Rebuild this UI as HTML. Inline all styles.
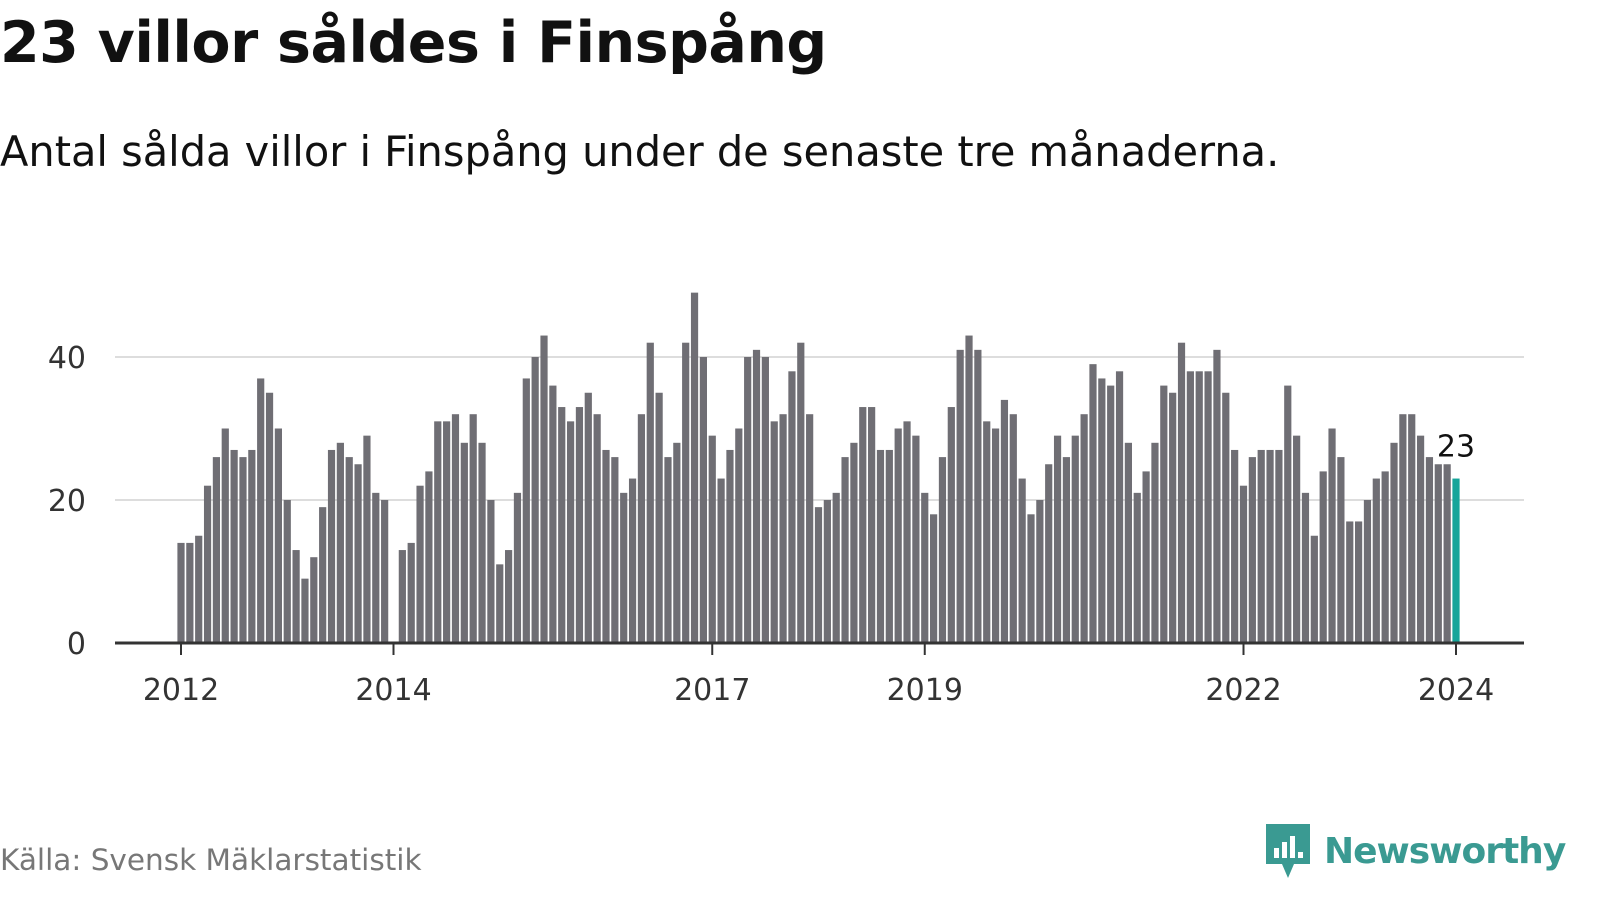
<!DOCTYPE html>
<html><head><meta charset="utf-8"><style>
body{margin:0;width:1600px;height:900px;background:#fff;font-family:"DejaVu Sans","Liberation Sans",sans-serif;overflow:hidden;position:relative}
#title{position:absolute;left:0;top:10px;font-size:57px;font-weight:bold;color:#111;margin:0;letter-spacing:-0.5px}
#sub{position:absolute;left:0;top:127px;font-size:41.5px;color:#111}
#src{position:absolute;left:0;top:843px;font-size:29.5px;color:#777}
#logo{position:absolute;left:1264px;top:822px;display:flex;align-items:center}
#logo span{font-size:36px;font-weight:bold;color:#3a9a92;margin-left:12px;letter-spacing:-1px}
</style></head><body>
<h1 id="title">23 villor såldes i Finspång</h1>
<div id="sub">Antal sålda villor i Finspång under de senaste tre månaderna.</div>
<svg id="chart" width="1600" height="900" style="position:absolute;left:0;top:0"></svg>
<div id="src">Källa: Svensk Mäklarstatistik</div>
<div id="logo">
<svg width="48" height="58" viewBox="0 0 48 58"><path d="M2 2h44v40H30l-6 14-6-14H2z" fill="#3a9a92"/><rect x="10" y="26" width="5" height="10" fill="#fff"/><rect x="18" y="20" width="5" height="16" fill="#fff"/><rect x="26" y="14" width="5" height="22" fill="#fff"/><rect x="34" y="30" width="5" height="6" fill="#fff"/></svg>
<span>Newsworthy</span></div>
<script>
const values2012=[14,14,15,22,26,30,27,26,27,37,35,30];
const values2013=[20,13,9,12,19,27,28,26,25,29,21,20];
const values2014=[0,13,14,22,24,31,31,32,28,32,28,20];
const values2015=[11,13,21,37,40,43,36,33,31,33,35,32];
const values2016=[27,26,21,23,32,42,35,26,28,42,49,40];
const values2017=[29,23,27,30,40,41,40,31,32,38,42,32];
const values2018=[19,20,21,26,28,33,33,27,27,30,31,29];
const values2019=[21,18,26,33,41,43,41,31,30,34,32,23];
const values2020=[18,20,25,29,26,29,32,39,37,36,38,28];
const values2021=[21,24,28,36,35,42,38,38,38,41,35,27];
const values2022=[22,26,27,27,27,36,29,21,15,24,30,26];
const values2023=[17,17,20,23,24,28,32,32,29,26,25,25];
const values2024=[23];
const yTicks=[0,20,40];
const xTickYears=[2012,2014,2017,2019,2022,2024];
const startYear=2012;
const values=[].concat(values2012,values2013,values2014,values2015,values2016,values2017,values2018,values2019,values2020,values2021,values2022,values2023,values2024);
const NS="http://www.w3.org/2000/svg";
const svg=document.getElementById('chart');
const x0=181,mw=1275/144,y0=643,yk=286/40,L=115,R=1524;
const xs=i=>x0+i*mw, ys=v=>y0-v*yk;
function mk(t,a){const e=document.createElementNS(NS,t);for(const k in a)e.setAttribute(k,a[k]);svg.appendChild(e);return e;}
yTicks.forEach(t=>{
 if(t>0){const g=mk('line',{x1:L,x2:R,y1:ys(t),y2:ys(t),stroke:'#ddd','stroke-width':2});
 
 }
 const tx=mk('text',{x:86,y:ys(t)+11,'text-anchor':'end','font-size':30,fill:'#333'});
 tx.textContent=t;
 
 
});
values.forEach((v,i)=>{
 if(v<=0)return;
 const last=i===values.length-1;
 const b=mk('rect',{x:xs(i)-3.6,y:ys(v),width:7.2,height:v*yk,fill:last?'#16a59a':'#6f6e74'});
 
 
});
const ax=mk('line',{x1:L,x2:R,y1:y0,y2:y0,stroke:'#333','stroke-width':3});


xTickYears.forEach(yr=>{
 const x=xs((yr-startYear)*12);
 const tk=mk('line',{x1:x,x2:x,y1:y0,y2:y0+12,stroke:'#333','stroke-width':2});
 
 
 const t=mk('text',{x:x,y:700,'text-anchor':'middle','font-size':30,fill:'#333'});
 t.textContent=yr;
 
 
});
const li=values.length-1;
const lab=mk('text',{x:xs(li),y:ys(values[li])-22,'text-anchor':'middle','font-size':30,fill:'#111',stroke:'#fff','stroke-width':6,'paint-order':'stroke'});
lab.textContent=values[li];


</script>
</body></html>
